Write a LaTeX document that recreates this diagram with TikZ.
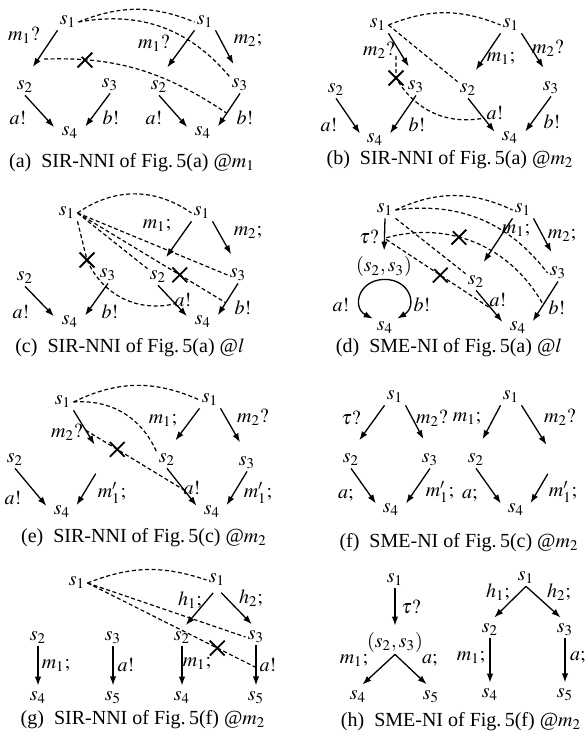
\documentclass[tikz,border=0pt]{standalone}
\usepackage{mathptmx}
\usepackage{fontspec}
\setmainfont{Liberation Serif}
\usetikzlibrary{arrows.meta,shapes.misc}

\tikzset{
  st/.style={inner sep=1pt},
  lb/.style={inner sep=0pt},
  arr/.style={-{Latex[length=4.5pt,width=3.2pt]}, line width=0.65pt, shorten >=4pt},
  arrtop/.style={arr, shorten >=7pt},
  rel/.style={line width=0.6pt, dash pattern=on 2pt off 1.3pt},
  fail/.style={draw, solid, cross out, line width=0.9pt, minimum size=6.5pt, inner sep=0pt},
  capt/.style={inner sep=0pt}
}

\begin{document}
\begin{tikzpicture}[x=0.5pt,y=-0.5pt]
\useasboundingbox (0,0) rectangle (586,742);

\node[st] (aL1) at (68,22) {$s_1$};
\node[st] (aL2) at (25,87) {$s_2$};
\node[st] (aL3) at (110,85) {$s_3$};
\node[st] (aL4) at (70,133) {$s_4$};
\node[st] (aR1) at (205,22) {$s_1$};
\node[st] (aR2) at (159,87) {$s_2$};
\node[st] (aR3) at (240,85) {$s_3$};
\node[st] (aR4) at (203,133) {$s_4$};
\draw[arrtop] (aL1.south west) -- coordinate[pos=.6] (aLm) (aL2.north);
\draw[arr] (aL2.south) -- (aL4.west);
\draw[arr] (aL3.south) -- (aL4.east);
\draw[arrtop] (aR1.south west) -- (aR2.north);
\draw[arrtop] (aR1.south east) -- (aR3.north);
\draw[arr] (aR2.south) -- (aR4.west);
\draw[arr] (aR3.south) -- coordinate[pos=.5] (aRb) (aR4.east);
\node[lb] (la1) at (24,35) {$m_1?$};
\node[lb] (la2) at (18,118) {$a!$};
\node[lb] (la3) at (111,118) {$b!$};
\node[lb] (la4) at (154,43) {$m_1?$};
\node[lb] (la5) at (248,40) {$m_2;$};
\node[lb] (la6) at (154,118) {$a!$};
\node[lb] (la7) at (245,118) {$b!$};
\draw[rel] (aL1.east) to[bend left=22] (aR1.west);
\draw[rel] (aL1.east) to[bend left=30] (aR3.north west);
\draw[rel,shorten <=3pt] (aLm) to[bend left=18] node[fail,pos=.22] (aX) {} (aRb);
\node[capt] (ca) at (132,163) {(a)\enspace SIR-NNI of Fig.\,5(a) @$m_1$};

\node[st] (bL1) at (378,25) {$s_1$};
\node[st] (bL2) at (336,90) {$s_2$};
\node[st] (bL3) at (416,87) {$s_3$};
\node[st] (bL4) at (375,140) {$s_4$};
\node[st] (bR1) at (511,25) {$s_1$};
\node[st] (bR2) at (468,90) {$s_2$};
\node[st] (bR3) at (551,88) {$s_3$};
\node[st] (bR4) at (510,138) {$s_4$};
\draw[arrtop] (bL1.south east) -- (bL3.north);
\draw[arr] (bL2.south) -- (bL4.west);
\draw[arr] (bL3.south) -- (bL4.east);
\draw[arrtop] (bR1.south west) -- (bR2.north);
\draw[arrtop] (bR1.south east) -- (bR3.north);
\draw[arr] (bR2.south) -- coordinate[pos=.5] (bRa) (bR4.west);
\draw[arr] (bR3.south) -- (bR4.east);
\node[lb] (lb1) at (379,50) {$m_2?$};
\node[lb] (lb2) at (329,125) {$a!$};
\node[lb] (lb3) at (417,125) {$b!$};
\node[lb] (lb4) at (501,58) {$m_1;$};
\node[lb] (lb5) at (548,48) {$m_2?$};
\node[lb] (lb6) at (495,113) {$a!$};
\node[lb] (lb7) at (552,122) {$b!$};
\coordinate (bq) at (396,56);
\node[fail] (bX) at (396,78) {};
\draw[rel] (bL1.east) to[bend left=22] (bR1.west);
\draw[rel] (bL1.east) -- (bR2.north west);
\draw[rel] (bq) -- (bX.center) to[bend right=35] (bRa);
\node[capt] (cb) at (450,160) {(b)\enspace SIR-NNI of Fig.\,5(a) @$m_2$};

\node[st] (cL1) at (67,213) {$s_1$};
\node[st] (cL2) at (25,278) {$s_2$};
\node[st] (cL3) at (108,275) {$s_3$};
\node[st] (cL4) at (70,322) {$s_4$};
\node[st] (cR1) at (202,213) {$s_1$};
\node[st] (cR2) at (158,277) {$s_2$};
\node[st] (cR3) at (238,275) {$s_3$};
\node[st] (cR4) at (203,322) {$s_4$};
\draw[arr] (cL2.south) -- (cL4.west);
\draw[arr] (cL3.south) -- (cL4.east);
\draw[arrtop] (cR1.south west) -- (cR2.north);
\draw[arrtop] (cR1.south east) -- (cR3.north);
\draw[arr] (cR2.south) -- coordinate[pos=.5] (cRa) (cR4.west);
\draw[arr] (cR3.south) -- coordinate[pos=.5] (cRb) (cR4.east);
\node[lb] (lc1) at (21,312) {$a!$};
\node[lb] (lc2) at (110,312) {$b!$};
\node[lb] (lc3) at (157,225) {$m_1;$};
\node[lb] (lc4) at (248,232) {$m_2;$};
\node[lb] (lc5) at (183,300) {$a!$};
\node[lb] (lc6) at (243,308) {$b!$};
\node[fail] (cX1) at (87,260) {};
\draw[rel] (cL1.east) to[bend left=35] (cR1.west);
\draw[rel] (cL1.south east) -- (cX1.center) to[bend right=40] (cRa);
\draw[rel] (cL1.east) -- (cR2.north west);
\draw[rel] (cL1.east) -- node[fail,pos=.69] (cX2) {} (cRb);
\draw[rel] (cL1.east) -- (cR3.west);
\node[capt] (cc) at (130,348) {(c)\enspace SIR-NNI of Fig.\,5(a) @$l$};

\node[st] (dL1) at (385,210) {$s_1$};
\node[st] (dL23) at (384,267) {$(s_2,s_3)$};
\node[st] (dL4) at (385,328) {$s_4$};
\node[st] (dR1) at (523,210) {$s_1$};
\node[st] (dR2) at (476,282) {$s_2$};
\node[st] (dR3) at (558,273) {$s_3$};
\node[st] (dR4) at (518,328) {$s_4$};
\draw[arr,shorten >=2pt] (dL1.south) -- coordinate[pos=.55] (dLt) (dL23.north);
\draw[arr,shorten >=1pt] (dL23.south) to[bend right=75,looseness=1.6] (dL4.north west);
\draw[arr,shorten >=1pt] (dL23.south) to[bend left=75,looseness=1.6] (dL4.north east);
\draw[arrtop] (dR1.south west) -- (dR2.north);
\draw[arrtop] (dR1.south east) -- (dR3.north);
\draw[arr] (dR2.south) -- coordinate[pos=.5] (dRa) (dR4.west);
\draw[arr] (dR3.south) -- coordinate[pos=.5] (dRb) (dR4.east);
\node[lb] (ld1) at (369,237) {$\tau?$};
\node[lb] (ld2) at (341,305) {$a!$};
\node[lb] (ld3) at (422,305) {$b!$};
\node[lb] (ld4) at (516,230) {$m_1;$};
\node[lb] (ld5) at (562,235) {$m_2;$};
\node[lb] (ld6) at (498,300) {$a!$};
\node[lb] (ld7) at (557,308) {$b!$};
\draw[rel] (dL1.east) to[bend left=25] (dR1.west);
\draw[rel] (dL1.east) to[bend left=30] (dR3.west);
\draw[rel] (dL1.south east) -- (dR2.north west);
\draw[rel,shorten <=1pt] (dLt) to[bend left=38] node[fail,pos=.4] (dX1) {} (dRb);
\draw[rel,shorten <=1pt] (dLt) -- node[fail,pos=.52] (dX2) {} (dRa);
\node[capt] (cd) at (449,348) {(d)\enspace SME-NI of Fig.\,5(a) @$l$};

\node[st] (eL1) at (63,402) {$s_1$};
\node[st] (eL2) at (15,460) {$s_2$};
\coordinate (eL3) at (104,460);
\node[st] (eL4) at (62,512) {$s_4$};
\node[st] (eR1) at (210,400) {$s_1$};
\node[st] (eR2) at (167,460) {$s_2$};
\node[st] (eR3) at (247,463) {$s_3$};
\node[st] (eR4) at (212,512) {$s_4$};
\draw[arr,shorten >=9pt] (eL1.south east) -- coordinate[pos=.4] (eLq) (eL3);
\draw[arr] (eL2.south) -- (eL4.west);
\draw[arr,shorten <=8pt] (eL3) -- (eL4.east);
\draw[arrtop] (eR1.south west) -- (eR2.north);
\draw[arrtop] (eR1.south east) -- (eR3.north);
\draw[arr] (eR2.south) -- coordinate[pos=.5] (eRa) (eR4.west);
\draw[arr] (eR3.south) -- (eR4.east);
\node[lb] (le1) at (67,432) {$m_2?$};
\node[lb] (le2) at (13,498) {$a!$};
\node[lb] (le3) at (112,493) {$m_1';$};
\node[lb] (le4) at (163,420) {$m_1;$};
\node[lb] (le5) at (253,417) {$m_2?$};
\node[lb] (le6) at (192,488) {$a!$};
\node[lb] (le7) at (258,493) {$m_1';$};
\draw[rel] (eL1.east) to[bend left=25] (eR1.west);
\draw[rel] (eL1.east) to[bend left=35] (eR2.north west);
\draw[rel] (eLq) -- node[fail,pos=.32] (eX) {} (eRa);
\node[capt] (ce) at (144,538) {(e)\enspace SIR-NNI of Fig.\,5(c) @$m_2$};

\node[st] (fL1) at (395,397) {$s_1$};
\node[st] (fL2) at (351,460) {$s_2$};
\node[st] (fL3) at (430,460) {$s_3$};
\node[st] (fL4) at (391,510) {$s_4$};
\node[st] (fR1) at (511,397) {$s_1$};
\node[st] (fR2) at (476,460) {$s_2$};
\coordinate (fR3) at (556,460);
\node[st] (fR4) at (516,510) {$s_4$};
\draw[arrtop] (fL1.south west) -- (fL2.north);
\draw[arrtop] (fL1.south east) -- (fL3.north);
\draw[arr] (fL2.south) -- (fL4.west);
\draw[arr] (fL3.south) -- (fL4.east);
\draw[arrtop] (fR1.south west) -- (fR2.north);
\draw[arr,shorten >=9pt] (fR1.south east) -- (fR3);
\draw[arr] (fR2.south) -- (fR4.west);
\draw[arr,shorten <=8pt] (fR3) -- (fR4.east);
\node[lb] (lf1) at (351,418) {$\tau?$};
\node[lb] (lf2) at (432,418) {$m_2?$};
\node[lb] (lf3) at (467,418) {$m_1;$};
\node[lb] (lf4) at (560,417) {$m_2?$};
\node[lb] (lf5) at (346,495) {$a;$};
\node[lb] (lf6) at (440,492) {$m_1';$};
\node[lb] (lf7) at (470,495) {$a;$};
\node[lb] (lf8) at (563,492) {$m_1';$};
\node[capt] (cf) at (459,543) {(f)\enspace SME-NI of Fig.\,5(c) @$m_2$};

\node[st] (gL1) at (77,583) {$s_1$};
\node[st] (gR1) at (217,580) {$s_1$};
\node[st] (gA2) at (38,638) {$s_2$};
\node[st] (gA4) at (38,698) {$s_4$};
\node[st] (gB3) at (113,638) {$s_3$};
\node[st] (gB5) at (113,698) {$s_5$};
\node[st] (gC2) at (182,638) {$s_2$};
\node[st] (gC4) at (182,698) {$s_4$};
\node[st] (gD3) at (256,637) {$s_3$};
\node[st] (gD5) at (256,698) {$s_5$};
\draw[arr,shorten >=2pt] (gA2.south) -- (gA4.north);
\draw[arr,shorten >=2pt] (gB3.south) -- (gB5.north);
\draw[arr,shorten >=2pt] (gC2.south) -- (gC4.north);
\draw[arr,shorten >=2pt] (gD3.south) -- coordinate[pos=.5] (gDa) (gD5.north);
\draw[arr,shorten <=3pt,shorten >=3pt] (gR1.south) -- (gC2.north);
\draw[arr,shorten <=3pt,shorten >=3pt] (gR1.south) -- (gD3.north);
\node[lb] (lg1) at (190,600) {$h_1;$};
\node[lb] (lg2) at (251,598) {$h_2;$};
\node[lb] (lg3) at (56,665) {$m_1;$};
\node[lb] (lg4) at (126,665) {$a!$};
\node[lb] (lg5) at (197,663) {$m_1;$};
\node[lb] (lg6) at (268,665) {$a!$};
\draw[rel] (gL1.east) to[bend left=20] (gR1.west);
\draw[rel] (gL1.east) -- (gD3.west);
\draw[rel] (gL1.east) -- node[fail,pos=.77] (gX) {} (gDa);
\node[capt] (cg) at (143,720) {(g)\enspace SIR-NNI of Fig.\,5(f) @$m_2$};

\node[st] (hL1) at (395,580) {$s_1$};
\node[st] (hL23) at (395,642) {$(s_2,s_3)$};
\node[st] (hL4) at (358,697) {$s_4$};
\node[st] (hL5) at (431,697) {$s_5$};
\node[st] (hR1) at (526,578) {$s_1$};
\node[st] (hR2) at (490,630) {$s_2$};
\node[st] (hR3) at (565,630) {$s_3$};
\node[st] (hR4) at (490,695) {$s_4$};
\node[st] (hR5) at (565,695) {$s_5$};
\draw[arr,shorten >=2pt] (hL1.south) -- (hL23.north);
\draw[arr,shorten >=3pt] (hL23.south) -- (hL4.north);
\draw[arr,shorten >=3pt] (hL23.south) -- (hL5.north);
\draw[arr,shorten >=3pt] (hR1.south) -- (hR2.north);
\draw[arr,shorten >=3pt] (hR1.south) -- (hR3.north);
\draw[arr,shorten >=2pt] (hR2.south) -- (hR4.north);
\draw[arr,shorten >=2pt] (hR3.south) -- (hR5.north);
\node[lb] (lh1) at (411,607) {$\tau?$};
\node[lb] (lh2) at (354,660) {$m_1;$};
\node[lb] (lh3) at (430,660) {$a;$};
\node[lb] (lh4) at (498,592) {$h_1;$};
\node[lb] (lh5) at (559,592) {$h_2;$};
\node[lb] (lh6) at (471,657) {$m_1;$};
\node[lb] (lh7) at (578,657) {$a;$};
\node[capt] (ch) at (461,722) {(h)\enspace SME-NI of Fig.\,5(f) @$m_2$};
\end{tikzpicture}
\end{document}
